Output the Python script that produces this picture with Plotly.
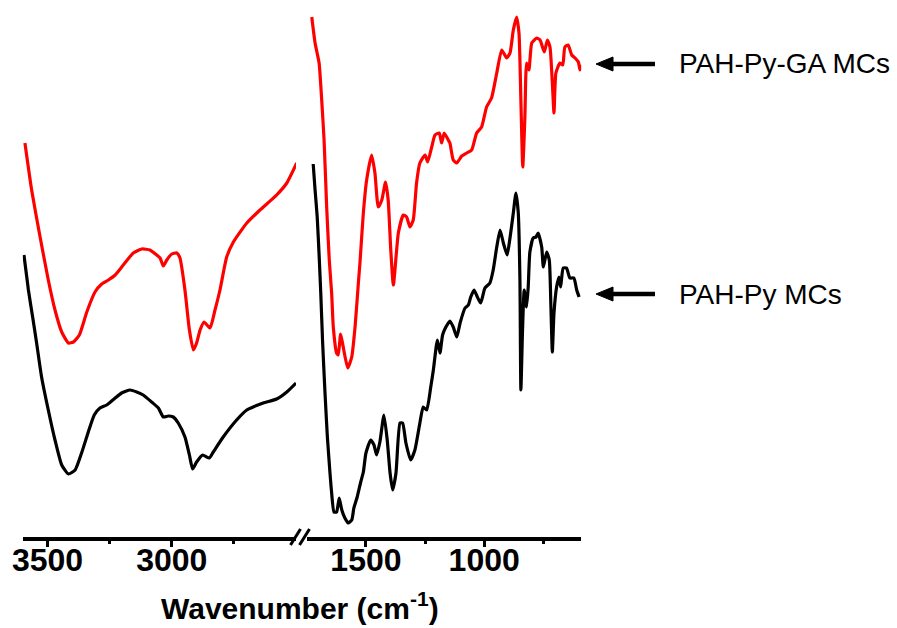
import plotly.graph_objects as go

# ---------------- data ----------------
# PAH-Py-GA MCs (red), high-wavenumber segment
ga_hi_wn = [3591, 3564, 3530, 3497, 3470, 3443, 3416, 3396, 3372, 3342, 3309, 3282, 3255, 3228,
            3195, 3155, 3121, 3088, 3061, 3047, 3034, 3020, 3000, 2980, 2967, 2947, 2929, 2913,
            2900, 2886, 2870, 2846, 2826, 2806, 2779, 2752, 2698, 2645, 2578, 2537, 2497]
ga_hi_t = [394, 347, 300, 257, 227, 205, 194, 195, 202, 225, 245, 253, 257, 262,
           272, 284, 288, 287, 282, 279, 271, 277, 283, 284, 279, 247, 207, 187,
           194, 207, 215, 209, 227, 247, 280, 295, 314, 327, 342, 354, 374]
# PAH-Py-GA MCs (red), fingerprint segment
ga_lo_wn = [1729, 1715, 1698, 1687, 1677, 1666, 1655, 1645, 1638, 1624, 1617, 1607, 1596, 1577,
            1560, 1546, 1532, 1525, 1511, 1497, 1476, 1462, 1448, 1433, 1417, 1406, 1395, 1384,
            1363, 1342, 1328, 1314, 1300, 1286, 1272, 1250, 1239, 1222, 1208, 1190, 1180, 1169,
            1152, 1145, 1131, 1116, 1095, 1074, 1053, 1032, 1011, 990, 969, 947, 926, 905,
            891, 877, 863, 853, 845, 837, 828, 821, 811, 799, 778, 764, 746, 733, 722, 712,
            705, 697, 680, 668, 659, 645, 630, 616, 602, 595, 588]
ga_lo_t = [520, 494, 474, 437, 397, 330, 277, 244, 210, 184, 182, 203, 190, 169,
           180, 210, 254, 275, 324, 357, 382, 364, 330, 337, 355, 337, 287, 252,
           304, 322, 320, 310, 317, 354, 374, 382, 375, 390, 402, 404, 394, 404,
           397, 394, 377, 374, 381, 384, 387, 404, 410, 430, 439, 464, 487, 479,
           484, 507, 520, 504, 437, 370, 420, 474, 467, 494, 499, 497, 485, 497, 490, 454,
           424, 464, 474, 472, 490, 492, 482, 479, 475, 467, 472]

# PAH-Py MCs (black), high-wavenumber segment
py_hi_wn = [3595, 3577, 3560, 3544, 3524, 3497, 3470, 3443, 3416, 3389, 3363, 3336, 3312, 3289,
            3262, 3228, 3202, 3168, 3141, 3115, 3081, 3054, 3034, 3014, 2994, 2974, 2947, 2929,
            2916, 2900, 2876, 2849, 2833, 2793, 2739, 2698, 2632, 2578, 2537, 2500]
py_hi_t = [282, 247, 220, 194, 160, 127, 97, 72, 63, 67, 84, 105, 122, 129,
           132, 139, 144, 147, 145, 142, 135, 129, 120, 121, 120, 114, 100, 82,
           68, 75, 82, 79, 85, 100, 117, 127, 134, 138, 145, 154]
# PAH-Py MCs (black), fingerprint segment
py_lo_wn = [1723, 1715, 1706, 1697, 1691, 1683, 1673, 1663, 1652, 1645, 1635, 1624, 1613, 1602,
            1589, 1575, 1560, 1551, 1537, 1522, 1511, 1500, 1480, 1466, 1455, 1441, 1424, 1410,
            1398, 1387, 1373, 1356, 1345, 1331, 1311, 1293, 1272, 1258, 1243, 1226, 1215, 1198,
            1187, 1176, 1162, 1145, 1131, 1116, 1102, 1081, 1067, 1057, 1043, 1029, 1015, 997,
            976, 962, 947, 933, 919, 903, 891, 877, 866, 856, 849, 845, 838, 831, 821, 814,
            807, 793, 781, 772, 757, 750, 736, 725, 718, 712, 705, 694, 684, 677, 666, 652,
            638, 621, 609, 599]
py_lo_t = [373, 347, 320, 277, 244, 194, 144, 100, 64, 44, 25, 25, 39, 27,
           19, 14, 17, 29, 40, 55, 65, 84, 97, 92, 82, 95, 122, 97,
           64, 47, 64, 114, 114, 94, 77, 87, 114, 130, 127, 150, 167, 197,
           184, 202, 210, 216, 210, 200, 214, 229, 232, 240, 247, 240, 234, 249,
           254, 267, 290, 307, 294, 282, 299, 324, 344, 324, 257, 147, 207, 247, 230, 250,
           285, 299, 300, 304, 290, 270, 285, 277, 230, 185, 224, 250, 260, 250, 269, 269,
           259, 259, 247, 240]

series_names = ["PAH-Py-GA MCs", "PAH-Py MCs"]
left_range = [3600, 2500]
right_range = [1750, 590]
left_major = [3500, 3000]
left_minor = [3250, 2750]
right_major = [1500, 1000]
right_minor = [1250, 750]

# ---------------- layout geometry ----------------
W, H = 897, 628
AXIS_Y = 537  # pixel row of the x axis line


def px(x):
    return x / W


def py(y):
    return (AXIS_Y - y) / AXIS_Y


RED = "#ff0000"
BLACK = "#000000"
LW = 3.2
FONT = "Liberation Sans, Arial, sans-serif"

fig = go.Figure()
line_shape = dict(shape="spline", smoothing=0.5)
fig.add_trace(go.Scatter(x=ga_hi_wn, y=ga_hi_t, xaxis="x", yaxis="y", mode="lines",
                         line=dict(color=RED, width=LW, **line_shape), name=series_names[0]))
fig.add_trace(go.Scatter(x=ga_lo_wn, y=ga_lo_t, xaxis="x2", yaxis="y", mode="lines",
                         line=dict(color=RED, width=LW, **line_shape), name=series_names[0]))
fig.add_trace(go.Scatter(x=py_hi_wn, y=py_hi_t, xaxis="x", yaxis="y", mode="lines",
                         line=dict(color=BLACK, width=LW, **line_shape), name=series_names[1]))
fig.add_trace(go.Scatter(x=py_lo_wn, y=py_lo_t, xaxis="x2", yaxis="y", mode="lines",
                         line=dict(color=BLACK, width=LW, **line_shape), name=series_names[1]))

tickfont = dict(family=FONT, size=32, color="black", weight=700)
common_x = dict(showline=True, linecolor="black", linewidth=3.5, ticks="outside", ticklen=6,
                tickwidth=3, tickcolor="black", showgrid=False, zeroline=False,
                tickfont=tickfont, tickmode="array", anchor="y", ticklabelstandoff=-14,
                automargin=False)

fig.update_layout(
    width=W, height=H,
    margin=dict(l=0, r=0, t=0, b=H - AXIS_Y, pad=0, autoexpand=False),
    paper_bgcolor="white", plot_bgcolor="white",
    showlegend=False,
    xaxis=dict(domain=[px(22.7), px(296)], range=left_range, tickvals=left_major,
               ticktext=[str(v) for v in left_major],
               minor=dict(tickmode="array", tickvals=left_minor, ticks="outside", ticklen=3,
                          tickwidth=3, tickcolor="black"),
               **common_x),
    xaxis2=dict(domain=[px(306.8), px(581.2)], range=right_range, tickvals=right_major,
                ticktext=[str(v) for v in right_major],
                minor=dict(tickmode="array", tickvals=right_minor, ticks="outside", ticklen=3,
                           tickwidth=3, tickcolor="black"),
                **common_x),
    yaxis=dict(visible=False, range=[0, AXIS_Y], domain=[0, 1], fixedrange=True),
)

# axis break marks "//"
for cx in (295.5, 304.5):
    fig.add_shape(type="line", xref="paper", yref="paper",
                  x0=px(cx - 5), y0=py(AXIS_Y + 8), x1=px(cx + 5), y1=py(AXIS_Y - 8),
                  line=dict(color="black", width=3))

# axis title
fig.add_annotation(xref="paper", yref="paper", x=px(300), y=py(606),
                   text="<b>Wavenumber (cm<sup>-1</sup>)</b>", showarrow=False,
                   font=dict(family=FONT, size=30, color="black"),
                   xanchor="center", yanchor="middle")

# series labels with arrows
label_font = dict(family=FONT, size=28, color="black")
for name, ypix in ((series_names[0], 64), (series_names[1], 294)):
    fig.add_annotation(xref="paper", yref="paper", x=px(677), y=py(ypix), text=name,
                       showarrow=False, font=label_font, xanchor="left", yanchor="middle")
    # arrow shaft
    fig.add_shape(type="line", xref="paper", yref="paper",
                  x0=px(608), y0=py(ypix), x1=px(655), y1=py(ypix),
                  line=dict(color="black", width=4.5))
    # arrow head
    path = (f"M {px(596)},{py(ypix)} L {px(613)},{py(ypix - 7)} "
            f"L {px(613)},{py(ypix + 7)} Z")
    fig.add_shape(type="path", xref="paper", yref="paper", path=path,
                  fillcolor="black", line=dict(color="black", width=1))

fig.write_html("out.html", config={"displayModeBar": False},
               post_script="document.body.style.margin='0';document.body.style.overflow='hidden';")
